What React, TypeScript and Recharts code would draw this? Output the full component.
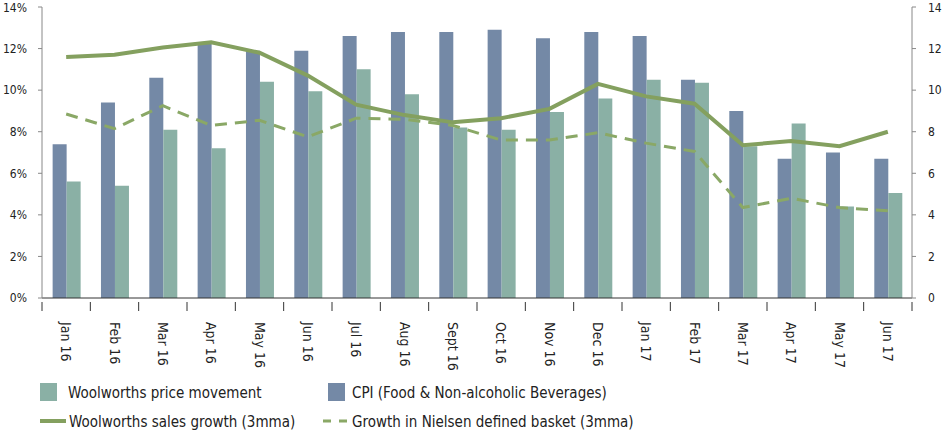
import React from "react";
import {
  ComposedChart,
  Bar,
  Line,
  XAxis,
  YAxis,
} from "recharts";

const months = [
  "Jan 16", "Feb 16", "Mar 16", "Apr 16", "May 16", "Jun 16", "Jul 16", "Aug 16", "Sept 16",
  "Oct 16", "Nov 16", "Dec 16", "Jan 17", "Feb 17", "Mar 17", "Apr 17", "May 17", "Jun 17",
];
const cpi = [7.4, 9.4, 10.6, 12.3, 11.9, 11.9, 12.6, 12.8, 12.8, 12.9, 12.5, 12.8, 12.6, 10.5, 9.0, 6.7, 7.0, 6.7];
const priceMovement = [5.6, 5.4, 8.1, 7.2, 10.4, 9.95, 11.0, 9.8, 8.2, 8.1, 8.95, 9.6, 10.5, 10.35, 7.3, 8.4, 4.4, 5.05];
const salesGrowth = [11.6, 11.7, 12.05, 12.3, 11.8, 10.7, 9.3, 8.8, 8.45, 8.65, 9.1, 10.3, 9.7, 9.35, 7.35, 7.55, 7.3, 8.0];
const nielsen = [8.85, 8.15, 9.25, 8.3, 8.55, 7.75, 8.65, 8.6, 8.3, 7.6, 7.6, 7.95, 7.45, 7.05, 4.35, 4.8, 4.35, 4.2];
const yTicks = [0, 2, 4, 6, 8, 10, 12, 14];

const data = months.map((m, i) => ({
  month: m,
  cpi: cpi[i],
  price: priceMovement[i],
  sales: salesGrowth[i],
  nielsen: nielsen[i],
}));

const FONT = "'DejaVu Sans Condensed', 'DejaVu Sans', sans-serif";
const BLUE = "#7489a6";
const TEAL = "#8ab0a5";
const OLIVE = "#84a05f";
const HALF = 870 / 18 / 2;

const MonthTick = (props: any) => {
  const { x, y, payload, index } = props;
  return (
    <g>
      <line x1={x - HALF} x2={x - HALF} y1={y - 4} y2={y + 5} stroke="#333" />
      {index === months.length - 1 && (
        <line x1={x + HALF} x2={x + HALF} y1={y - 4} y2={y + 5} stroke="#333" />
      )}
      <text
        transform={`translate(${x},${y + 16}) rotate(90)`}
        textAnchor="start"
        dominantBaseline="central"
        fontSize={14}
        fontFamily={FONT}
        fill="#222"
      >
        {payload.value}
      </text>
    </g>
  );
};

const legendText: React.CSSProperties = {
  position: "absolute",
  fontFamily: FONT,
  fontSize: 15,
  color: "#222",
  lineHeight: "16px",
  whiteSpace: "nowrap",
};

export default function App() {
  return (
    <div style={{ position: "relative", width: 943, height: 431, background: "#fff" }}>
      <style>{`body{margin:0}`}</style>
      <ComposedChart
        width={943}
        height={431}
        data={data}
        margin={{ top: 7, right: 0, bottom: 0, left: 0 }}
        barCategoryGap="22%"
        barGap={0}
      >
        <XAxis
          dataKey="month"
          height={133}
          interval={0}
          tickLine={false}
          axisLine={{ stroke: "#333" }}
          tick={<MonthTick />}
        />
        <YAxis
          yAxisId="left"
          width={42}
          domain={[0, 14]}
          ticks={yTicks}
          tickFormatter={(v) => `${v}%`}
          tickSize={4}
          tickMargin={11}
          tickLine={{ stroke: "#888" }}
          axisLine={{ stroke: "#888" }}
          tick={{ fontSize: 12, fontFamily: FONT, fill: "#222" }}
        />
        <YAxis
          yAxisId="right"
          orientation="right"
          width={31}
          domain={[0, 14]}
          ticks={yTicks}
          tickSize={4}
          tickMargin={12}
          tickLine={{ stroke: "#888" }}
          axisLine={{ stroke: "#888" }}
          tick={{ fontSize: 12, fontFamily: FONT, fill: "#222", textAnchor: "start" }}
        />
        <Bar yAxisId="left" dataKey="cpi" fill={BLUE} isAnimationActive={false} />
        <Bar yAxisId="left" dataKey="price" fill={TEAL} isAnimationActive={false} />
        <Line
          yAxisId="right"
          dataKey="sales"
          stroke={OLIVE}
          strokeWidth={4}
          dot={false}
          activeDot={false}
          isAnimationActive={false}
        />
        <Line
          yAxisId="right"
          dataKey="nielsen"
          stroke="#8aa866"
          strokeWidth={3}
          strokeDasharray="12 8"
          dot={false}
          activeDot={false}
          isAnimationActive={false}
        />
      </ComposedChart>

      {/* legend */}
      <div style={{ position: "absolute", left: 40, top: 383, width: 17, height: 18, background: TEAL }} />
      <div style={{ ...legendText, left: 68, top: 385 }}>Woolworths price movement</div>
      <div style={{ position: "absolute", left: 328, top: 383, width: 17, height: 18, background: BLUE }} />
      <div style={{ ...legendText, left: 352, top: 385 }}>CPI (Food &amp; Non-alcoholic Beverages)</div>
      <div style={{ position: "absolute", left: 40, top: 419, width: 26, height: 4, background: OLIVE }} />
      <div style={{ ...legendText, left: 69, top: 414 }}>Woolworths sales growth (3mma)</div>
      <svg style={{ position: "absolute", left: 322, top: 418 }} width={28} height={6}>
        <line x1={1} x2={27} y1={3} y2={3} stroke="#8aa866" strokeWidth={3} strokeDasharray="8 8" />
      </svg>
      <div style={{ ...legendText, left: 352, top: 414 }}>Growth in Nielsen defined basket (3mma)</div>
    </div>
  );
}
